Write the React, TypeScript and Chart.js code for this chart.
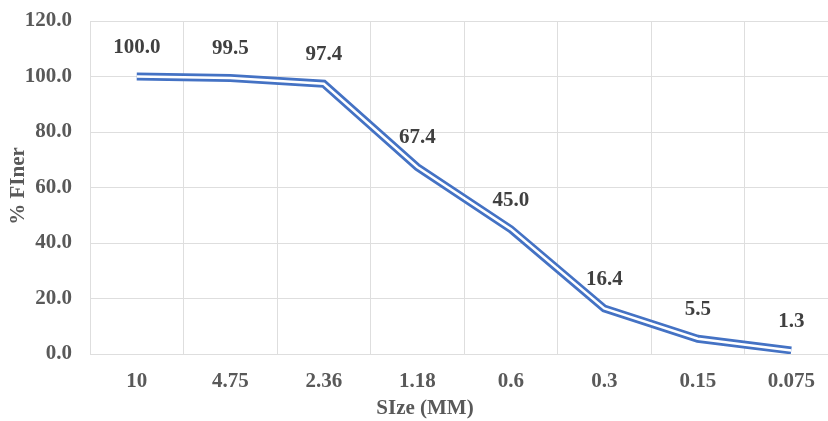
import React, { useEffect, useRef } from "react";
import { Chart, registerables } from "chart.js";

Chart.register(...registerables);

const categories = ["10", "4.75", "2.36", "1.18", "0.6", "0.3", "0.15", "0.075"];
const percentFiner = [100.0, 99.5, 97.4, 67.4, 45.0, 16.4, 5.5, 1.3];
const xTitle = "SIze (MM)";
const yTitle = "% FIner";

const FONT = "'Liberation Serif', 'Times New Roman', serif";
const BLUE = "#4472C4";
const GRID = "#dedede";

const labelsPlugin = {
  id: "labelsAndTitles",
  afterDatasetsDraw(chart: any) {
    const ctx = chart.ctx;
    const meta = chart.getDatasetMeta(0);
    ctx.save();
    ctx.font = `bold 21px ${FONT}`;
    ctx.fillStyle = "#404040";
    ctx.textAlign = "center";
    ctx.textBaseline = "middle";
    meta.data.forEach((pt: any, i: number) => {
      ctx.fillText(percentFiner[i].toFixed(1), pt.x, pt.y - 29);
    });
    ctx.fillStyle = "#595959";
    ctx.font = `bold 21px ${FONT}`;
    ctx.fillText(xTitle, 425, 409);
    ctx.translate(19, 186);
    ctx.rotate(-Math.PI / 2);
    ctx.fillText(yTitle, 0, 0);
    ctx.restore();
  },
};

export default function App() {
  const ref = useRef<HTMLCanvasElement>(null);
  useEffect(() => {
    if (!ref.current) return;
    const chart = new Chart(ref.current, {
      type: "line",
      data: {
        labels: categories,
        datasets: [
          {
            data: percentFiner,
            borderColor: "#ffffff",
            borderWidth: 2.5,
            pointRadius: 0,
            tension: 0,
            borderJoinStyle: "miter",
            order: 0,
          },
          {
            data: percentFiner,
            borderColor: BLUE,
            borderWidth: 8,
            pointRadius: 0,
            tension: 0,
            borderJoinStyle: "miter",
            order: 1,
          },
        ],
      },
      options: {
        animation: false,
        responsive: false,
        layout: { padding: { top: 21, left: 0, right: 0, bottom: 0 } },
        plugins: { legend: { display: false }, tooltip: { enabled: false } },
        scales: {
          x: {
            offset: true,
            grid: { offset: true, color: GRID, drawTicks: false },
            border: { color: GRID },
            ticks: {
              color: "#595959",
              font: { family: FONT, size: 21, weight: "bold" },
              padding: 15,
              maxRotation: 0,
            },
            afterFit: (s: any) => {
              s.height = 67;
              s.paddingLeft = 0;
              s.paddingRight = 0;
            },
          },
          y: {
            min: 0,
            max: 120,
            grid: { color: GRID, drawTicks: false },
            border: { color: GRID },
            ticks: {
              stepSize: 20,
              color: "#595959",
              font: { family: FONT, size: 21, weight: "bold" },
              padding: 18,
              callback: (v: any) => Number(v).toFixed(1),
            },
            afterFit: (s: any) => {
              s.width = 90;
              s.paddingTop = 0;
              s.paddingBottom = 0;
            },
          },
        },
      },
      plugins: [labelsPlugin],
    } as any);
    return () => chart.destroy();
  }, []);
  return (
    <div
      style={{
        position: "fixed",
        left: 0,
        top: 0,
        width: 828,
        height: 421,
        overflow: "hidden",
        background: "#fff",
      }}
    >
      <canvas ref={ref} width={838} height={421} style={{ display: "block" }} />
    </div>
  );
}
